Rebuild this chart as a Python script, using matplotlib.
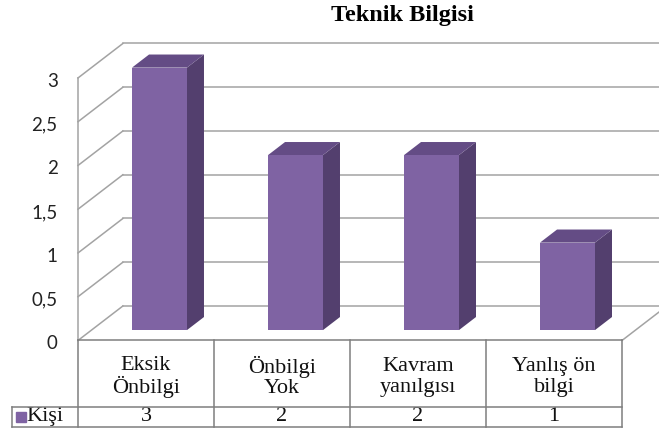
import matplotlib.pyplot as plt
from matplotlib.patches import Polygon

categories = ["Eksik\nÖnbilgi", "Önbilgi\nYok", "Kavram\nyanılgısı", "Yanlış ön\nbilgi"]
values = [3, 2, 2, 1]
series_name = "Kişi"
yticks = [0, 0.5, 1, 1.5, 2, 2.5, 3]
ytick_labels = ["0", "0,5", "1", "1,5", "2", "2,5", "3"]
title = "Teknik Bilgisi"

front_col = "#7F63A3"
top_col = "#644C85"
side_col = "#533F6E"
grid_col = "#A3A3A3"

# depth of the fake 3d box, in data units
DX, DY = 0.33, 0.394
bar_w = 0.404
d0, d1 = 0.30, 0.68

fig = plt.figure(figsize=(6.59, 4.41), dpi=100)
ax = fig.add_axes([0, 0, 1, 1])
ax.set_xlim(-0.5735, 4.272)
ax.set_ylim(-1.149, 3.891)
ax.axis("off")

n = len(categories)
ymax = yticks[-1]

# walls + gridlines
for v in yticks:
    ax.plot([DX, n + DX], [v + DY, v + DY], color=grid_col, lw=1.1, zorder=1)
    ax.plot([0, DX], [v, v + DY], color=grid_col, lw=1.1, zorder=1)
ax.plot([0, 0], [0, ymax], color=grid_col, lw=1.1, zorder=1)
ax.plot([n, n + DX], [0, DY], color=grid_col, lw=1.1, zorder=1)

for v, lab in zip(yticks, ytick_labels):
    ax.text(-0.15, v - 0.04, lab, ha="right", va="center", fontsize=13.5,
            family="Lato", color="#222222")

# bars
for i, v in enumerate(values):
    x0 = i + 0.5 - bar_w / 2 + d0 * DX
    x1 = x0 + bar_w
    yb = d0 * DY
    ox = (d1 - d0) * DX
    oy = (d1 - d0) * DY
    side = Polygon([(x1, yb), (x1 + ox, yb + oy), (x1 + ox, v + yb + oy), (x1, v + yb)],
                   closed=True, facecolor=side_col, edgecolor="none", zorder=3)
    top = Polygon([(x0, v + yb), (x0 + ox, v + yb + oy), (x1 + ox, v + yb + oy), (x1, v + yb)],
                  closed=True, facecolor=top_col, edgecolor="none", zorder=3)
    ax.add_patch(side)
    ax.add_patch(top)
    ax.bar(x0, v, width=bar_w, bottom=yb, align="edge", color=front_col, zorder=4)

# data table
r1, r2 = -0.76, -0.989
lab_x = -0.485
tkw = dict(color="#7F7F7F", lw=1.1, zorder=5)
ax.plot([0, n], [0, 0], **tkw)
ax.plot([lab_x, n], [r1, r1], **tkw)
ax.plot([lab_x, n], [r2, r2], **tkw)
for i in range(n + 1):
    ax.plot([i, i], [0, r2], **tkw)
ax.plot([lab_x, lab_x], [r1, r2], **tkw)

for i, (c, v) in enumerate(zip(categories, values)):
    ax.text(i + 0.5, r1 * 0.55, c, ha="center", va="center", fontsize=16,
            family="Liberation Serif", linespacing=1.08, color="#111111")
    ax.text(i + 0.5, (r1 + r2) / 2, str(v), ha="center", va="center", fontsize=16,
            family="Liberation Serif", color="#111111")

ax.plot([-0.418], [(r1 + r2) / 2], marker="s", ms=7, color=front_col, zorder=6)
ax.text(-0.376, (r1 + r2) / 2, series_name, ha="left", va="center", fontsize=16,
        family="Liberation Serif", color="#111111")

fig.text(402 / 659, 1 - 16 / 441, title, ha="center", va="center", fontsize=17.5,
         family="Liberation Serif", fontweight="bold")

fig.savefig("out.png", dpi=100)
